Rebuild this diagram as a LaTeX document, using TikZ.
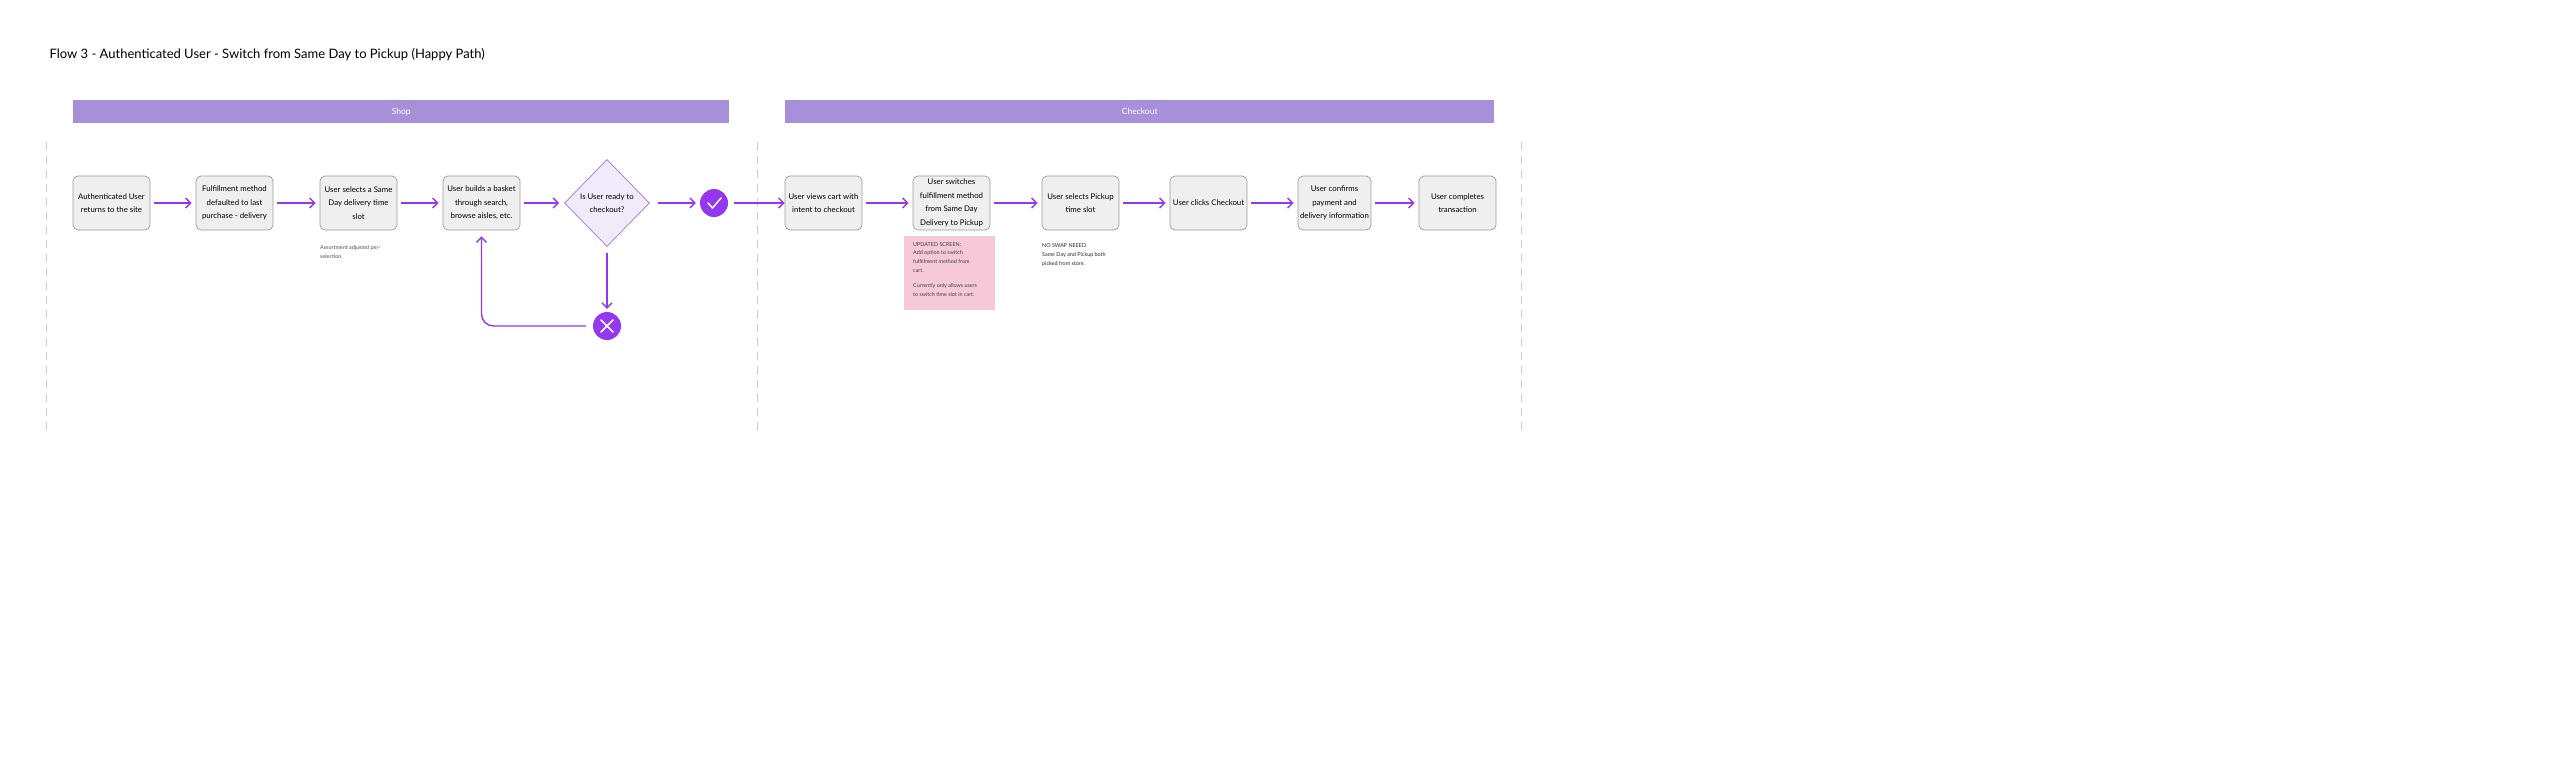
\documentclass[tikz,border=0pt]{standalone}
\usepackage{fontspec}
\setmainfont{Lato}
\usetikzlibrary{shapes.geometric,arrows.meta,calc}
\definecolor{bar}{HTML}{A78FD9}
\definecolor{vio}{HTML}{9338EE}
\definecolor{boxf}{HTML}{EFEFEF}
\definecolor{boxd}{HTML}{9A9A9A}
\definecolor{dia}{HTML}{F1EAFA}
\definecolor{diad}{HTML}{A176D6}
\definecolor{pinkn}{HTML}{F6C8D8}
\definecolor{sep}{HTML}{CCCCCC}
\tikzset{
 stepbox/.style={draw=boxd,fill=boxf,rounded corners=5pt,minimum width=77pt,minimum height=54pt,align=center,font=\fontsize{7.8}{13.5}\selectfont,inner sep=1pt,line width=0.7pt},
 lane/.style={fill=bar,minimum height=23pt,text=white,font=\fontsize{8.5}{10}\selectfont,anchor=north west,inner sep=0pt},
 flow/.style={draw=vio,line width=1.4pt,-{Straight Barb[length=5pt,width=10pt,line width=1.4pt]}},
 dot/.style={circle,fill=vio,minimum size=28pt,inner sep=0pt,text=white},
 note/.style={font=\fontsize{5.4}{9}\selectfont,text=black!70,align=left,anchor=north west,inner sep=0pt},
 sepline/.style={draw=sep,dashed,dash pattern=on 8pt off 6pt,line width=0.8pt}
}
\begin{document}
\begin{tikzpicture}[x=1pt,y=-1pt]
\useasboundingbox (0,0) rectangle (2560,777);
\node[anchor=west,font=\fontsize{13}{15}\selectfont] (title) at (46,55) {Flow 3 - Authenticated User - Switch from Same Day to Pickup (Happy Path)};
\node[lane,minimum width=656pt] (shop) at (73,100) {Shop};
\node[lane,minimum width=709pt] (chk) at (785,100) {Checkout};
\foreach \x/\n in {46/a,757/b,1521/c}{\coordinate (s\n1) at (\x,142); \coordinate (s\n2) at (\x,432); \draw[sepline] (s\n1) -- (s\n2);}
\node[stepbox] (b1) at (111.5,203) {Authenticated User\\returns to the site};
\node[stepbox] (b2) at (234.5,203) {Fulfillment method\\defaulted to last\\purchase - delivery};
\node[stepbox] (b3) at (358.5,203) {User selects a Same\\Day delivery time\\slot};
\node[stepbox] (b4) at (481.5,203) {User builds a basket\\through search,\\browse aisles, etc.};
\node[diamond,draw=diad,fill=dia,minimum width=85pt,minimum height=87pt,inner sep=0pt,align=center,font=\fontsize{7.8}{13.5}\selectfont,line width=0.7pt] (d) at (607,203) {Is User ready to\\checkout?};
\node[dot] (ok) at (714,203) {};
\draw[white,line width=1.5pt,line cap=round,line join=round] ($(ok)+(-6,0)$) -- ($(ok)+(-1.5,5)$) -- ($(ok)+(7,-5)$);
\node[dot] (no) at (607,326) {};
\draw[white,line width=1.5pt,line cap=round] ($(no)+(-6,-6)$) -- ($(no)+(6,6)$) ($(no)+(-6,6)$) -- ($(no)+(6,-6)$);
\node[stepbox] (b5) at (823.5,203) {User views cart with\\intent to checkout};
\node[stepbox] (b6) at (951.5,203) {User switches\\fulfillment method\\from Same Day\\Delivery to Pickup};
\node[stepbox] (b7) at (1080.5,203) {User selects Pickup\\time slot};
\node[stepbox] (b8) at (1208.5,203) {User clicks Checkout};
\node[stepbox,minimum width=73pt] (b9) at (1334.5,203) {User confirms\\payment and\\delivery information};
\node[stepbox] (b10) at (1457.5,203) {User completes\\transaction};
\draw[flow] ($(b1.east)+(4,0)$) -- ($(b2.west)+(-4,0)$);
\draw[flow] ($(b2.east)+(4,0)$) -- ($(b3.west)+(-4,0)$);
\draw[flow] ($(b3.east)+(4,0)$) -- ($(b4.west)+(-4,0)$);
\draw[flow] ($(b4.east)+(4,0)$) -- ($(d.west)+(-5,0)$);
\draw[flow] ($(d.east)+(8,0)$) -- ($(ok.west)+(-4,0)$);
\draw[flow] ($(ok.east)+(6,0)$) -- (b5.west);
\draw[flow] ($(b5.east)+(4,0)$) -- ($(b6.west)+(-4,0)$);
\draw[flow] ($(b6.east)+(4,0)$) -- ($(b7.west)+(-4,0)$);
\draw[flow] ($(b7.east)+(4,0)$) -- ($(b8.west)+(-4,0)$);
\draw[flow] ($(b8.east)+(4,0)$) -- ($(b9.west)+(-4,0)$);
\draw[flow] ($(b9.east)+(4,0)$) -- ($(b10.west)+(-4,0)$);
\draw[flow] ($(d.south)+(0,6)$) -- ($(no.north)+(0,-3)$);
\draw[flow,rounded corners=12pt] ($(no.west)+(-7,0)$) -| ($(b4.south)+(0,6)$);
\node[note] (n1) at (320,245) {Assortment adjusted per-\\selection.};
\node[fill=pinkn,minimum width=91pt,minimum height=74pt,anchor=north west,inner sep=0pt] (pk) at (904,236) {};
\node[note,text=black!75] (n2) at (913,242) {UPDATED SCREEN:\\[-1pt]Add option to switch\\fulfillment method from\\cart.\\[6pt]Currently only allows users\\to switch time slot in cart.};
\node[note,text=black!85] (n3) at (1042,243) {NO SWAP NEEED.\\Same Day and Pickup both\\picked from store.};
\end{tikzpicture}
\end{document}
